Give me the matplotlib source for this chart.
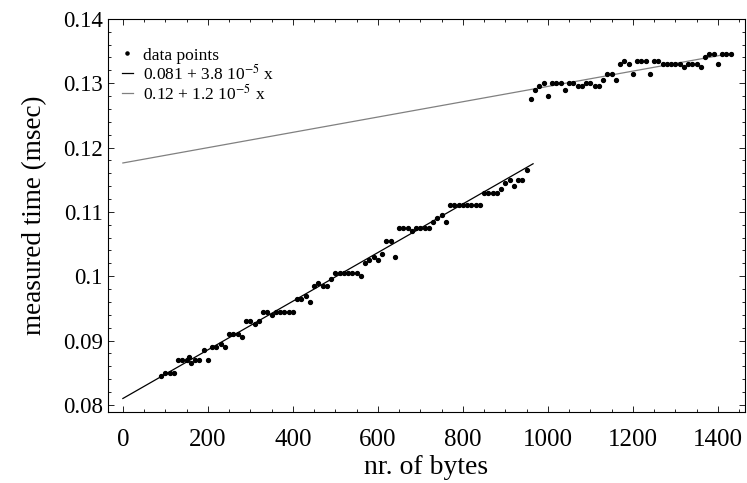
import numpy as np
import matplotlib
matplotlib.use("Agg")
import matplotlib.pyplot as plt
from matplotlib.ticker import MultipleLocator, FuncFormatter

plt.rcParams['font.family'] = ['Liberation Serif', 'DejaVu Serif']
plt.rcParams['mathtext.fontset'] = 'stix'

# small packets
x_small = [90, 100, 110, 120, 130, 140, 150, 155, 160, 170, 180, 190, 200, 210, 220,
           230, 240, 250, 260, 270, 280, 290, 300, 310, 320, 330, 340, 350, 360, 370,
           380, 390, 400, 410, 420, 430, 440, 450, 460, 470, 480, 490, 500, 510, 520,
           530, 540, 550, 560, 570, 580, 590, 600, 610, 620, 630, 640, 650, 660, 670,
           680, 690, 700, 710, 720, 730, 740, 750, 760, 770, 780, 790, 800, 810, 820,
           830, 840, 850, 860, 870, 880, 890, 900, 910, 920, 930, 940, 950]
t_small = [0.0845, 0.085, 0.085, 0.085, 0.087, 0.087, 0.087, 0.0875, 0.0865, 0.087,
           0.087, 0.0885, 0.087, 0.089, 0.089, 0.0895, 0.089, 0.091, 0.091, 0.091,
           0.0905, 0.093, 0.093, 0.0925, 0.093, 0.0945, 0.0945, 0.094, 0.0945, 0.0945,
           0.0945, 0.0945, 0.0945, 0.0965, 0.0965, 0.097, 0.096, 0.0985, 0.099, 0.0985,
           0.0985, 0.0995, 0.1005, 0.1005, 0.1005, 0.1005, 0.1005, 0.1005, 0.1, 0.102,
           0.1025, 0.103, 0.1025, 0.1035, 0.1055, 0.1055, 0.103, 0.1075, 0.1075, 0.1075,
           0.107, 0.1075, 0.1075, 0.1075, 0.1075, 0.1085, 0.109, 0.1095, 0.1085, 0.111,
           0.111, 0.111, 0.111, 0.111, 0.111, 0.111, 0.111, 0.113, 0.113, 0.113,
           0.113, 0.1135, 0.1145, 0.115, 0.114, 0.115, 0.115, 0.1165]

# large packets
x_large = [960, 970, 980, 990, 1000, 1010, 1020, 1030, 1040, 1050, 1060, 1070, 1080,
           1090, 1100, 1110, 1120, 1130, 1140, 1150, 1160, 1170, 1180, 1190, 1200,
           1210, 1220, 1230, 1240, 1250, 1260, 1270, 1280, 1290, 1300, 1310, 1320,
           1330, 1340, 1350, 1360, 1370, 1380, 1390, 1400, 1410, 1420, 1430]
t_large = [0.1275, 0.129, 0.1295, 0.13, 0.128, 0.13, 0.13, 0.13, 0.129, 0.13, 0.13,
           0.1295, 0.1295, 0.13, 0.13, 0.1295, 0.1295, 0.1305, 0.1315, 0.1315, 0.1305,
           0.133, 0.1335, 0.133, 0.1315, 0.1335, 0.1335, 0.1335, 0.1315, 0.1335, 0.1335,
           0.133, 0.133, 0.133, 0.133, 0.133, 0.1325, 0.133, 0.133, 0.133, 0.1325,
           0.134, 0.1345, 0.1345, 0.133, 0.1345, 0.1345, 0.1345]

# fits (a + b x) and the range they are drawn over
fit1 = (0.081, 3.78e-5, 965)
fit2 = (0.1176, 1.19e-5, 1435)
labels = ["data points", r"0.081 + 3.8 10$^{-5}$ x", r"0.12 + 1.2 10$^{-5}$ x"]

fig = plt.figure(figsize=(7.47, 4.83), dpi=100)
ax = fig.add_axes([0.144, 0.147, 0.853, 0.814])

ax.plot(x_small + x_large, t_small + t_large, 'o', color='black', ms=2.8,
        label=labels[0], zorder=3)
for (a, b, xmax), col, lab in [(fit1, 'black', labels[1]), (fit2, '#808080', labels[2])]:
    xs = np.array([0, xmax])
    ax.plot(xs, a + b * xs, color=col, lw=0.9, label=lab)

ax.set_xlim(-36, 1463)
ax.set_ylim(0.0789, 0.14)
ax.xaxis.set_major_locator(MultipleLocator(200))
ax.xaxis.set_minor_locator(MultipleLocator(50))
ax.yaxis.set_major_locator(MultipleLocator(0.01))
ax.yaxis.set_minor_locator(MultipleLocator(0.002))
ax.yaxis.set_major_formatter(FuncFormatter(lambda v, p: f"{v:.2f}".rstrip('0')))
ax.tick_params(which='both', direction='in', top=True, right=True, width=0.6)
ax.tick_params(which='major', length=4.5)
ax.tick_params(which='minor', length=2.5)
ax.tick_params(axis='x', labelsize=18, pad=12)
ax.tick_params(axis='y', labelsize=16.5, pad=3.5)
for s in ax.spines.values():
    s.set_linewidth(0.8)

ax.set_xlabel("nr. of bytes", fontsize=20, labelpad=3)
ax.set_ylabel("measured time (msec)", fontsize=19.5, labelpad=11)

leg = ax.legend(loc='upper left', bbox_to_anchor=(0.012, 0.945), frameon=False,
                fontsize=12.5, handlelength=0.6, handletextpad=0.6, labelspacing=0.0,
                borderaxespad=0, markerscale=0.8)

fig.savefig("out.png", dpi=100)
